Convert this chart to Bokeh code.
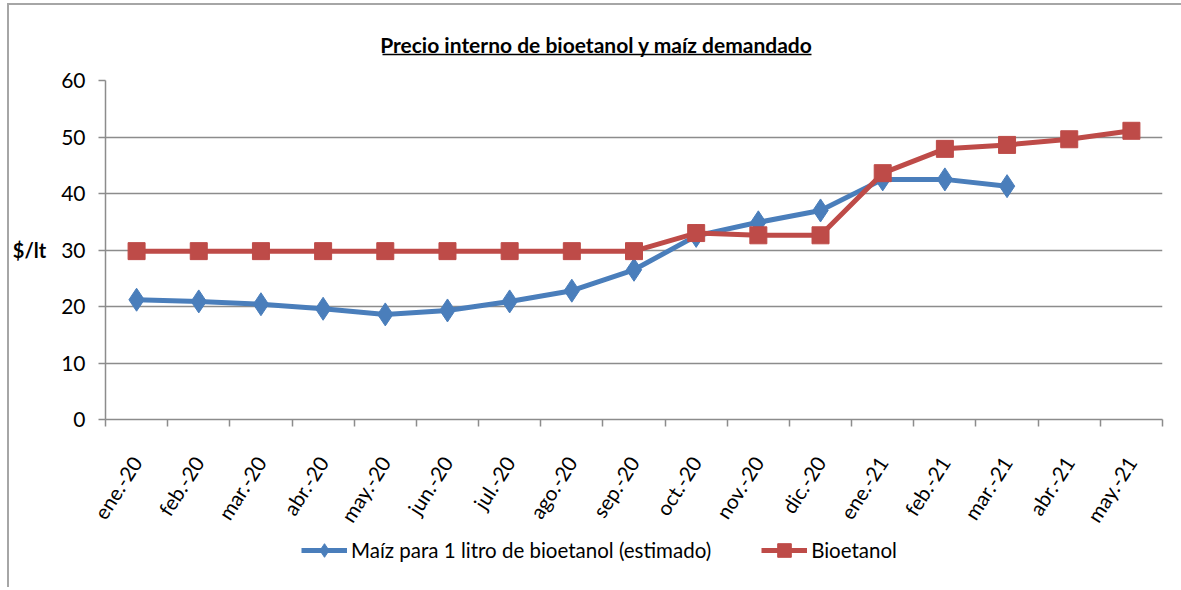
from bokeh.plotting import figure
from bokeh.layouts import column
from bokeh.models import FixedTicker, Legend, LegendItem, Range1d
from bokeh.core.properties import value
from bokeh.embed import file_html
from bokeh.resources import INLINE

months = ["ene.-20", "feb.-20", "mar.-20", "abr.-20", "may.-20", "jun.-20", "jul.-20",
          "ago.-20", "sep.-20", "oct.-20", "nov.-20", "dic.-20", "ene.-21", "feb.-21",
          "mar.-21", "abr.-21", "may.-21"]
maiz = [21.2, 20.9, 20.4, 19.6, 18.6, 19.3, 20.9, 22.8, 26.5, 32.5, 34.9, 37.0, 42.5, 42.5, 41.3]
bioetanol = [29.8, 29.8, 29.8, 29.8, 29.8, 29.8, 29.8, 29.8, 29.8, 33.0, 32.6, 32.6, 43.6, 47.9, 48.6, 49.6, 51.1]
series_names = ["Maíz para 1 litro de bioetanol (estimado)", "Bioetanol"]
title_text = "Precio interno de bioetanol y maíz demandado"
y_label = "$/lt"
y_ticks = [0, 10, 20, 30, 40, 50, 60]

FONT = "Lato"
BLUE = "#4a7ebb"
RED = "#be4b48"
GRID = "#8c8c8c"
W = 1172
FRAME_L, FRAME_R = 105, 1162   # page x of plot frame (strips are frame-aligned)


def strip(height):
    f = figure(width=W, height=height, output_backend="svg", toolbar_location=None,
               x_range=Range1d(FRAME_L, FRAME_R), y_range=Range1d(0, height),
               min_border=0, min_border_top=0, min_border_bottom=0)
    f.axis.visible = False
    f.grid.visible = False
    f.outline_line_color = None
    f.background_fill_alpha = 0
    f.border_fill_alpha = 0
    return f


# ---- title strip (text + underline) ----
t = strip(63)
t.text(x=[596], y=[24], text=[title_text], text_font=value(FONT), text_font_size="21px",
       text_font_style="bold", text_align="center", text_baseline="middle", text_color="black")
t.segment(x0=[382], y0=[14], x1=[811], y1=[14], line_color="black", line_width=1.6)

# ---- main chart ----
n = len(months)
xs_all = list(range(n))
xs_maiz = xs_all[:len(maiz)]

p = figure(frame_width=1057, frame_height=339, output_backend="svg", toolbar_location=None,
           x_range=Range1d(-0.5, n - 0.5), y_range=Range1d(0, 60),
           min_border_left=96, min_border_right=19, min_border_top=12, min_border_bottom=200)
p.outline_line_color = None
p.background_fill_color = "white"
p.border_fill_alpha = 0

p.xaxis.ticker = FixedTicker(ticks=xs_all, minor_ticks=[i - 0.5 for i in range(n + 1)])
p.xaxis.major_label_overrides = {i: m for i, m in enumerate(months)}
p.xaxis.major_tick_line_color = None
p.xaxis.major_tick_out = 0
p.xaxis.major_tick_in = 0
p.xaxis.minor_tick_out = 7
p.xaxis.minor_tick_in = 0
p.xaxis.minor_tick_line_color = GRID
p.xaxis.minor_tick_line_width = 1.5
p.xaxis.major_label_orientation = 1.0
p.xaxis.major_label_standoff = 32
p.xaxis.major_label_text_font = FONT
p.xaxis.major_label_text_font_size = "20.5px"
p.xaxis.major_label_text_color = "black"
p.xaxis.axis_line_color = GRID
p.xaxis.axis_line_width = 1.5

p.yaxis.ticker = FixedTicker(ticks=y_ticks)
p.yaxis.minor_tick_line_color = None
p.yaxis.major_tick_out = 7
p.yaxis.major_tick_in = 0
p.yaxis.major_tick_line_color = GRID
p.yaxis.major_tick_line_width = 1.5
p.yaxis.axis_line_color = GRID
p.yaxis.axis_line_width = 1.5
p.yaxis.major_label_standoff = 13
p.yaxis.major_label_text_font = FONT
p.yaxis.major_label_text_font_size = "21px"
p.yaxis.major_label_text_color = "black"
p.yaxis.axis_label = y_label
p.yaxis.axis_label_orientation = "horizontal"
p.yaxis.axis_label_text_font = FONT
p.yaxis.axis_label_text_font_size = "20px"
p.yaxis.axis_label_text_font_style = "bold"
p.yaxis.axis_label_text_color = "black"
p.yaxis.axis_label_standoff = 12

p.xgrid.grid_line_color = None
p.ygrid.ticker = FixedTicker(ticks=y_ticks)
p.ygrid.grid_line_color = GRID
p.ygrid.grid_line_width = 1.5

p.line(xs_maiz, maiz, line_color=BLUE, line_width=5)
p.scatter(xs_maiz, maiz, marker="diamond", size=23, fill_color=BLUE, line_color=BLUE)
p.line(xs_all, bioetanol, line_color=RED, line_width=5)
p.scatter(xs_all, bioetanol, marker="square", size=17, fill_color=RED, line_color=RED)

# ---- legend strip: same series, lying outside this strip's x-range, so only keys show ----
lg = strip(56)
k1 = lg.line(xs_maiz, maiz, line_color=BLUE, line_width=5)
k1m = lg.scatter(xs_maiz, maiz, marker="diamond", size=23, fill_color=BLUE, line_color=BLUE)
k2 = lg.line(xs_all, bioetanol, line_color=RED, line_width=5)
k2m = lg.scatter(xs_all, bioetanol, marker="square", size=17, fill_color=RED, line_color=RED)
legend = Legend(items=[
    LegendItem(label=series_names[0], renderers=[k1, k1m]),
    LegendItem(label=series_names[1], renderers=[k2, k2m]),
], orientation="horizontal", location=(196, 20), border_line_color=None,
    label_text_font=FONT, label_text_font_size="20.5px", label_text_color="black",
    glyph_width=46, glyph_height=34, spacing=50, margin=0, padding=2, label_standoff=4,
    background_fill_alpha=0)
lg.add_layout(legend, "center")
lg.margin = (-88, 0, 0, 0)

layout = column(t, p, lg, spacing=0, styles={
    "margin-left": "7px", "margin-top": "3px",
    "border-left": "2px solid #a6a6a6", "border-top": "2px solid #a6a6a6",
})

open("out.html", "w").write(file_html(layout, INLINE))
